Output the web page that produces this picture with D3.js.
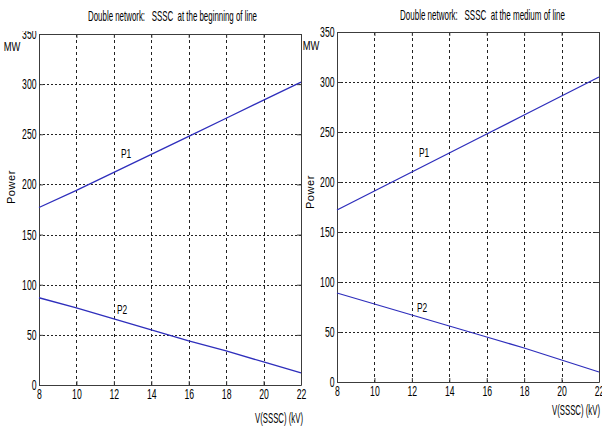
<!DOCTYPE html>
<html>
<head>
<meta charset="utf-8">
<script src="https://cdn.jsdelivr.net/npm/d3@7"></script>
<style>
  body { margin: 0; background: #fff; }
  text { font-family: "Liberation Sans", Arial, sans-serif; fill: #000; }
</style>
</head>
<body>
<svg id="chart" width="602" height="426"></svg>
<script>
// Data
var kV = [8, 10, 12, 14, 16, 18, 20, 22];
var p1Begin = [177, 194, 212, 230, 248, 266, 284, 302];
var p2Begin = [87, 77, 66, 55, 44, 34, 23, 12];
var p1Medium = [172, 191, 210, 229, 248, 267, 286, 305];
var p2Medium = [89, 78, 67, 56, 45, 34, 22, 10];
var xTicks = [8, 10, 12, 14, 16, 18, 20, 22];
var yTicks = [0, 50, 100, 150, 200, 250, 300, 350];
var titles = ["Double network:   SSSC  at the beginning of line",
              "Double network:   SSSC  at the medium of line"];

var svg = d3.select("#chart");
var lineColor = "#2e2ebc";
var axisColor = "#3c3c3c";
var narrow = 0.62;

// squeezed text, like the narrow screen font of the original
function label(x, y, str, size, anchor, sx) {
  return svg.append("text")
    .attr("transform", "translate(" + x + "," + y + ")scale(" + (sx || narrow) + ",1)")
    .attr("text-anchor", anchor || "start")
    .attr("font-size", size + "px")
    .text(str);
}

// panel boxes (pixels)
var panels = [
  { x0: 39, x1: 301, top: 34, bottom: 385, p1: p1Begin, p2: p2Begin, title: titles[0],
    titleX: 88, titleW: 169, titleY: 21, p1Lab: [121, 158], p2Lab: [117, 314], xLab: [255, 423], mw: [12, 51], pw: [15, 187] },
  { x0: 337, x1: 599, top: 32, bottom: 382, p1: p1Medium, p2: p2Medium, title: titles[1],
    titleX: 400, titleW: 165, titleY: 20, p1Lab: [419, 157], p2Lab: [417, 312], xLab: [552, 415], mw: [311, 50], pw: [314, 192] }
];

panels.forEach(function(p, i) {
  var g = svg.append("g");
  var x = d3.scaleLinear().domain([8, 22]).range([p.x0, p.x1]);
  var y = d3.scaleLinear().domain([0, 350]).range([p.bottom, p.top]);

  // grid
  g.selectAll(".vg").data(xTicks.slice(1, -1)).enter().append("line")
    .attr("x1", function(d) { return Math.round(x(d)) + 0.5; })
    .attr("x2", function(d) { return Math.round(x(d)) + 0.5; })
    .attr("y1", p.top).attr("y2", p.bottom)
    .attr("stroke", "#222").attr("stroke-dasharray", "3,3");
  g.selectAll(".hg").data(yTicks.slice(1, -1)).enter().append("line")
    .attr("y1", function(d) { return Math.round(y(d)) + 0.5; })
    .attr("y2", function(d) { return Math.round(y(d)) + 0.5; })
    .attr("x1", p.x0).attr("x2", p.x1)
    .attr("stroke", "#222").attr("stroke-dasharray", "2,2");

  // axes with inward ticks
  g.append("g").attr("transform", "translate(0," + p.bottom + ")")
    .call(d3.axisBottom(x).tickValues(xTicks).tickSize(-4).tickPadding(4).tickSizeOuter(0));
  g.append("g").attr("transform", "translate(" + p.x0 + ",0)")
    .call(d3.axisLeft(y).tickValues(yTicks).tickSize(-4).tickPadding(4).tickSizeOuter(0));
  g.append("g").attr("transform", "translate(0," + p.top + ")")
    .call(d3.axisTop(x).tickValues(xTicks).tickSize(-4).tickFormat("").tickSizeOuter(0));
  g.append("g").attr("transform", "translate(" + p.x1 + ",0)")
    .call(d3.axisRight(y).tickValues(yTicks).tickSize(-4).tickFormat("").tickSizeOuter(0));
  g.selectAll(".domain, .tick line").attr("stroke", axisColor);
  g.selectAll(".tick text").attr("font-size", "14px")
    .style("font-family", "'Liberation Sans', Arial, sans-serif")
    .attr("transform", "scale(" + narrow + ",1)");

  // lines
  var line = d3.line().x(function(d, j) { return x(kV[j]); }).y(function(d) { return y(d); });
  [p.p1, p.p2].forEach(function(s) {
    g.append("path").datum(s).attr("d", line)
      .attr("fill", "none").attr("stroke", lineColor).attr("stroke-width", 1.3);
  });

  // labels
  label(p.p1Lab[0], p.p1Lab[1], "P1", 13.5);
  label(p.p2Lab[0], p.p2Lab[1], "P2", 13.5);
  svg.append("text").attr("x", p.xLab[0]).attr("y", p.xLab[1])
    .attr("font-size", "15px").attr("textLength", 48).attr("lengthAdjust", "spacingAndGlyphs")
    .text("V(SSSC) (kV)");
  label(p.mw[0], p.mw[1], "MW", 13, "middle", 0.72);
  svg.append("text").attr("transform", "translate(" + p.pw[0] + "," + p.pw[1] + ")rotate(-90)")
    .attr("text-anchor", "middle").attr("font-size", "11px")
    .attr("letter-spacing", "0.6px").text("Power");

  // title (left one sits over the top tick label)
  if (i === 0) {
    svg.append("rect").attr("x", 0).attr("y", 0).attr("width", 300).attr("height", 31).attr("fill", "#fff");
  }
  svg.append("text").attr("x", p.titleX).attr("y", p.titleY)
    .attr("font-size", "15px").attr("xml:space", "preserve").style("white-space", "pre")
    .attr("textLength", p.titleW).attr("lengthAdjust", "spacingAndGlyphs")
    .text(p.title);
});
</script>
</body>
</html>
